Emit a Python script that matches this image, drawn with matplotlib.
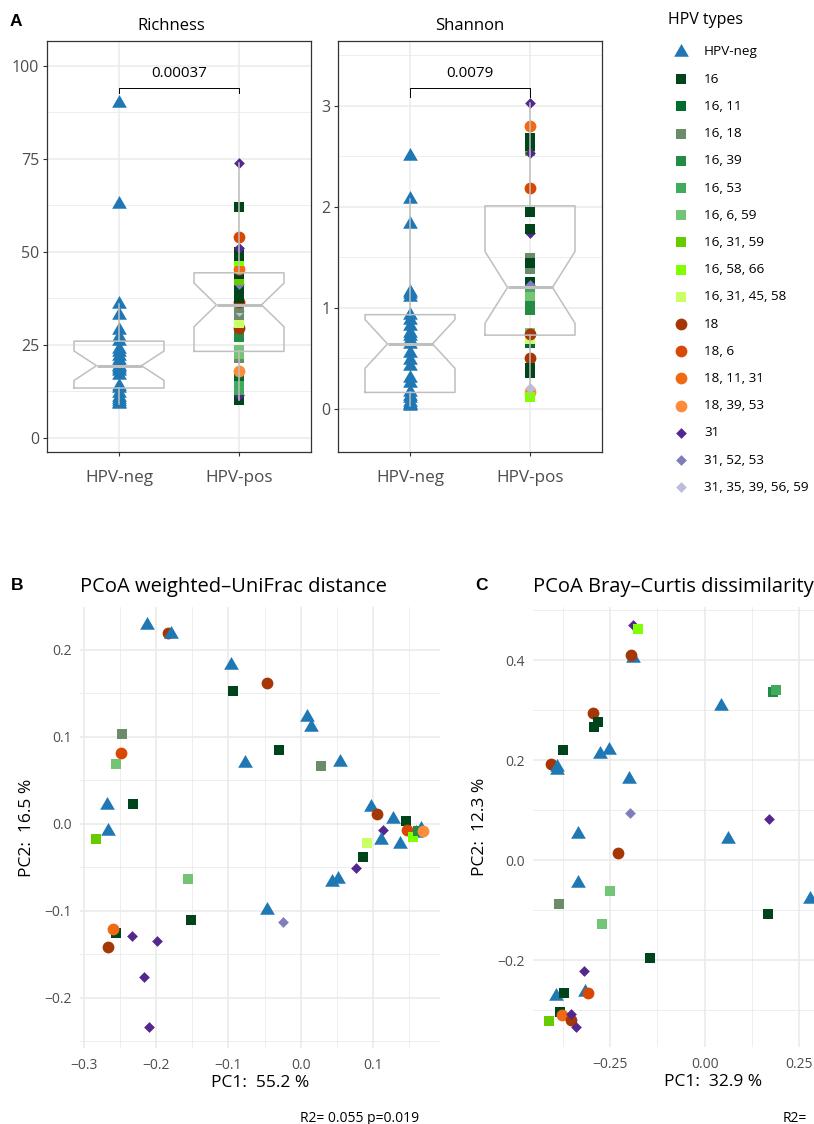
import numpy as np
import matplotlib
matplotlib.use("Agg")
import matplotlib.pyplot as plt
from matplotlib.ticker import MultipleLocator, FixedLocator

plt.rcParams['font.family'] = ['Open Sans', 'DejaVu Sans']
plt.rcParams['axes.unicode_minus'] = True

# ---------------- data ----------------
hpv_types = ["HPV-neg", "16", "16, 11", "16, 18", "16, 39", "16, 53", "16, 6, 59",
             "16, 31, 59", "16, 58, 66", "16, 31, 45, 58", "18", "18, 6", "18, 11, 31",
             "18, 39, 53", "31", "31, 52, 53", "31, 35, 39, 56, 59"]
type_colors = ["#1F78B4", "#00441B", "#006D2C", "#6A8C69", "#238B45", "#41AB5D", "#74C476",
               "#66CC00", "#7FFF00", "#CCFF66", "#A63603", "#D94801", "#F16913",
               "#FD8D3C", "#54278F", "#807DBA", "#BCBDDC"]
type_shapes = ["tri"] + ["sq"] * 9 + ["circ"] * 4 + ["dia"] * 3

groups = ["HPV-neg", "HPV-pos"]

richness_neg = [9, 9.5, 10, 10.5, 11, 12, 13.4, 14, 17, 18, 18.5, 19, 19.4, 20, 21, 22,
                23, 24, 26, 27, 29, 33, 36, 63, 90]
shannon_neg = [0.03, 0.04, 0.05, 0.07, 0.1, 0.12, 0.16, 0.25, 0.3, 0.42, 0.48, 0.55, 0.64,
               0.68, 0.72, 0.75, 0.82, 0.88, 0.93, 1.1, 1.13, 1.15, 1.83, 2.08, 2.5]

types_pos = ["16", "31", "16, 53", "16, 53", "16, 11", "18, 39, 53", "16, 18", "16, 6, 59",
             "16, 6, 59", "16, 39", "16, 39", "18", "16, 31, 45, 58", "16, 18",
             "31, 35, 39, 56, 59", "16, 18", "18", "16", "16", "16", "16", "31, 52, 53",
             "16, 31, 59", "16", "18, 11, 31", "16, 58, 66", "16", "16", "31", "18, 6", "16", "31"]
richness_pos = [10.2, 11.5, 13, 14.5, 16.5, 18, 21.5, 22.5, 23.5, 27, 28, 29.5, 31, 33, 34, 35,
                36.5, 37.5, 38.5, 39.5, 40.5, 41.5, 42.5, 44, 45.5, 47.5, 49, 50, 51, 54, 62, 74]
shannon_pos = [0.35, 1.74, 1.15, 1.18, 0.65, 0.16, 1.05, 0.75, 1.10, 0.98, 1.02, 0.50, 0.69,
               1.49, 0.20, 1.38, 0.74, 1.25, 1.44, 1.78, 1.95, 1.22, 2.55, 2.60, 2.80, 0.11,
               2.68, 0.40, 2.53, 2.18, 2.63, 3.03]

pvals = ["0.00037", "0.0079"]

# PCoA weighted UniFrac
wu_types = ["HPV-neg", "18", "HPV-neg", "HPV-neg", "16", "18", "HPV-neg", "HPV-neg", "16",
            "HPV-neg", "16, 18", "HPV-neg", "16, 18", "18, 6", "16, 6, 59", "HPV-neg", "16",
            "HPV-neg", "16, 31, 59", "16, 6, 59",
            "HPV-neg", "18", "HPV-neg", "16", "18, 6", "31", "HPV-neg", "HPV-neg", "16, 58, 66",
            "16, 39", "18, 39, 53", "16, 31, 45, 58", "HPV-neg", "HPV-neg", "16", "31",
            "HPV-neg", "HPV-neg",
            "HPV-neg", "31, 52, 53", "16", "16", "18, 11, 31", "18", "31", "31", "31", "31"]
wu_pc1 = [-0.2124, -0.1834, -0.180, -0.0971, -0.0935, -0.0473, 0.008, 0.0135, -0.0307,
          -0.0773, 0.0274, 0.054, -0.2479, -0.2492, -0.2562, -0.2686, -0.2318, -0.2672,
          -0.2834, -0.1557,
          0.0979, 0.1057, 0.128, 0.1454, 0.1472, 0.114, 0.166, 0.160, 0.1555, 0.1624, 0.1693,
          0.091, 0.1108, 0.138, 0.0863, 0.0762, 0.0426, 0.0518,
          -0.0473, -0.0243, -0.1524, -0.2562, -0.2595, -0.2664, -0.234, -0.1994, -0.217, -0.2105]
wu_pc2 = [0.228, 0.219, 0.2176, 0.182, 0.152, 0.162, 0.122, 0.111, 0.085, 0.070, 0.066,
          0.0707, 0.103, 0.081, 0.0687, 0.0218, 0.0229, -0.0088, -0.0172, -0.0638,
          0.019, 0.0115, 0.0057, 0.0026, -0.0077, -0.0077, -0.006, -0.011, -0.0153, -0.0088,
          -0.0088, -0.0218, -0.019, -0.0229, -0.0382, -0.0508, -0.0668, -0.0638,
          -0.0993, -0.1126, -0.1107, -0.126, -0.1214, -0.1424, -0.1298, -0.1355, -0.1768,
          -0.2333]

# PCoA Bray-Curtis
bc_types = ["31", "16, 58, 66", "HPV-neg", "18", "HPV-neg", "16, 39", "16, 53", "18", "16",
            "16", "16", "18", "HPV-neg", "HPV-neg", "HPV-neg", "HPV-neg", "HPV-neg",
            "31, 52, 53", "31", "HPV-neg", "HPV-neg", "18",
            "HPV-neg", "16, 6, 59", "16, 18", "16, 6, 59", "16", "HPV-neg", "16", "31",
            "HPV-neg", "16", "HPV-neg", "18, 6", "16", "18, 11, 31", "18", "31", "31",
            "16, 31, 59"]
bc_pc1 = [-0.19, -0.1769, -0.1885, -0.1946, 0.043, 0.181, 0.1875, -0.294, -0.2914, -0.2825,
          -0.375, -0.4058, -0.3907, -0.39, -0.2764, -0.2526, -0.199, -0.1972, 0.1706, 0.0623,
          -0.3337, -0.228,
          -0.3337, -0.25, -0.3838, -0.2719, 0.1679, 0.278, -0.1444, -0.3186, -0.3926, -0.3714,
          -0.316, -0.3073, -0.382, -0.3775, -0.3537, -0.3537, -0.3398, -0.41]
bc_pc2 = [0.47, 0.462, 0.405, 0.41, 0.309, 0.337, 0.34, 0.2947, 0.2667, 0.2767, 0.22, 0.192,
          0.1867, 0.18, 0.2133, 0.2213, 0.162, 0.0953, 0.082, 0.0433, 0.0533, 0.0153,
          -0.0453, -0.062, -0.0867, -0.1267, -0.1067, -0.0767, -0.1947, -0.2213, -0.272,
          -0.2647, -0.2633, -0.2647, -0.3033, -0.31, -0.3187, -0.308, -0.3333, -0.3213]

# ---------------- styling helpers ----------------
W, H = 814, 1124
DPI = 100
TRI = [(-1, -0.577), (1, -0.577), (0, 1.155), (-1, -0.577)]
shape_marker = {"tri": TRI, "sq": "s", "circ": "o", "dia": "D"}
shape_size = {"tri": 150, "sq": 62, "circ": 72, "dia": 30}
color_of = dict(zip(hpv_types, type_colors))
shape_of = dict(zip(hpv_types, type_shapes))
GRID = "#EBEBEB"
TICKC = "#4D4D4D"


def ax_px(x0, y0, x1, y1):
    return [x0 / W, 1 - y1 / H, (x1 - x0) / W, (y1 - y0) / H]


def scatter_types(ax, xs, ys, types, z=3):
    for x, y, t in zip(xs, ys, types):
        sh = shape_of[t]
        ax.scatter([x], [y], marker=shape_marker[sh], s=shape_size[sh], color=color_of[t],
                   linewidths=0, zorder=z)


fig = plt.figure(figsize=(W / DPI, H / DPI), dpi=DPI)

# ---------------- panel A ----------------
def alpha_panel(rect, neg, pos, ylim, major, minor, pval, bracket, title, title_x):
    ax = fig.add_axes(ax_px(*rect))
    ax.set_facecolor("white")
    ax.scatter(np.ones(len(neg)), neg, marker=TRI, s=shape_size["tri"],
               color=color_of["HPV-neg"], linewidths=0, zorder=2)
    scatter_types(ax, np.full(len(pos), 2.0), pos, types_pos, z=2)
    bp = ax.boxplot([neg, pos], positions=[1, 2], widths=0.75, notch=True,
                    showcaps=False, showfliers=False, patch_artist=False,
                    boxprops=dict(color="#BFBFBF", lw=1.1),
                    whiskerprops=dict(color="#BFBFBF", lw=1.1),
                    medianprops=dict(color="#BFBFBF", lw=2.2), zorder=4)
    for k in ("boxes", "whiskers", "medians"):
        for art in bp[k]:
            art.set_zorder(4)
    ax.set_xlim(0.4, 2.6)
    ax.set_ylim(*ylim)
    ax.set_xticks([1, 2])
    ax.set_xticklabels(groups)
    ax.yaxis.set_major_locator(MultipleLocator(major))
    ax.yaxis.set_minor_locator(FixedLocator(np.arange(minor, ylim[1], major)))
    ax.grid(True, which="major", color=GRID, lw=1.1, zorder=0)
    ax.grid(True, which="minor", axis="y", color=GRID, lw=0.6, zorder=0)
    ax.set_axisbelow(True)
    for sp in ax.spines.values():
        sp.set_color("#333333")
        sp.set_linewidth(0.9)
    ax.tick_params(axis="both", which="major", length=3, width=0.8, color="#333333",
                   labelcolor=TICKC, labelsize=11.5, pad=2.5)
    ax.tick_params(axis="x", pad=10, labelsize=12.3)
    ax.tick_params(which="minor", length=0)
    yb, yleg = bracket
    ax.plot([1, 1, 2, 2], [yleg, yb, yb, yleg], color="black", lw=0.7, zorder=5)
    ax.text(1.5, yb + (ylim[1] - ylim[0]) * 0.017, pval, ha="center", va="bottom",
            fontsize=11, color="black")
    ax.text(title_x, 1.0365, title, transform=ax.transAxes, ha="center", va="center",
            fontsize=12, color="black")
    return ax


alpha_panel((47, 41, 311, 452), richness_neg, richness_pos, (-3.8, 106.7), 25, 12.5,
            pvals[0], (94.0, 92.7), "Richness", 0.47)
alpha_panel((338, 41, 602, 452), shannon_neg, shannon_pos, (-0.43, 3.64), 1, 0.5,
            pvals[1], (3.175, 3.086), "Shannon", 0.5)

# ---------------- PCoA panels ----------------
def pcoa_panel(rect, xs, ys, types, xlim, ylim, xmaj, ymaj, title, xlabel, ylabel):
    ax = fig.add_axes(ax_px(*rect))
    ax.set_xlim(*xlim)
    ax.set_ylim(*ylim)
    ax.xaxis.set_major_locator(MultipleLocator(xmaj))
    ax.yaxis.set_major_locator(MultipleLocator(ymaj))
    ax.xaxis.set_minor_locator(MultipleLocator(xmaj / 2))
    ax.yaxis.set_minor_locator(MultipleLocator(ymaj / 2))
    ax.grid(True, which="major", color=GRID, lw=1.2, zorder=0)
    ax.grid(True, which="minor", color=GRID, lw=0.6, zorder=0)
    ax.set_axisbelow(True)
    for sp in ax.spines.values():
        sp.set_visible(False)
    ax.tick_params(which="both", length=0, labelcolor=TICKC, labelsize=10)
    ax.tick_params(axis="x", pad=7)
    ax.tick_params(axis="y", pad=6)
    scatter_types(ax, xs, ys, types)
    h = rect[3] - rect[1]
    w = rect[2] - rect[0]
    ax.set_xlabel(xlabel, fontsize=12.5, color="black", va="center")
    ax.xaxis.set_label_coords(0.5, -(35 / h))
    ax.set_ylabel(ylabel, fontsize=12.5, color="black", va="center")
    ax.yaxis.set_label_coords(-(53 / w), 0.5)
    ax.text(0, 1 + 20 / h, title, transform=ax.transAxes, ha="left", va="center",
            fontsize=14.5, color="black")
    return ax


pcoa_panel((80, 607, 440, 1048), wu_pc1, wu_pc2, wu_types, (-0.3055, 0.1927),
           (-0.258, 0.249), 0.1, 0.1, "PCoA weighted\u2013UniFrac distance",
           "PC1:  55.2 %", "PC2:  16.5 %")
pcoa_panel((533, 607, 893, 1047), bc_pc1, bc_pc2, bc_types, (-0.453, 0.497),
           (-0.373, 0.506), 0.25, 0.2, "PCoA Bray\u2013Curtis dissimilarity",
           "PC1:  32.9 %", "PC2:  12.3 %")

# ---------------- overlay: legend, letters, captions ----------------
ov = fig.add_axes([0, 0, 1, 1], zorder=10)
ov.set_xlim(0, W)
ov.set_ylim(H, 0)
ov.axis("off")
ov.patch.set_alpha(0)

for letter, (lx, ly) in zip(["A", "B", "C"], [(16, 22), (17, 586), (482, 586)]):
    ov.text(lx, ly, letter, fontsize=12.5, fontweight="bold", ha="center", va="center",
            family=["Liberation Sans", "DejaVu Sans"])

ov.text(668, 20, "HPV types", fontsize=11.5, ha="left", va="center")
for i, t in enumerate(hpv_types):
    yy = 52 + 27.2 * i
    sh = shape_of[t]
    ov.scatter([681], [yy], marker=shape_marker[sh], s=shape_size[sh], color=color_of[t],
               linewidths=0)
    ov.text(704, yy, t, fontsize=9.7, ha="left", va="center")

ov.text(419, 1118, "R2= 0.055 p=0.019", fontsize=10, ha="right", va="center")
ov.text(783, 1118, "R2=", fontsize=10, ha="left", va="center")

fig.savefig("out.png", dpi=DPI)
